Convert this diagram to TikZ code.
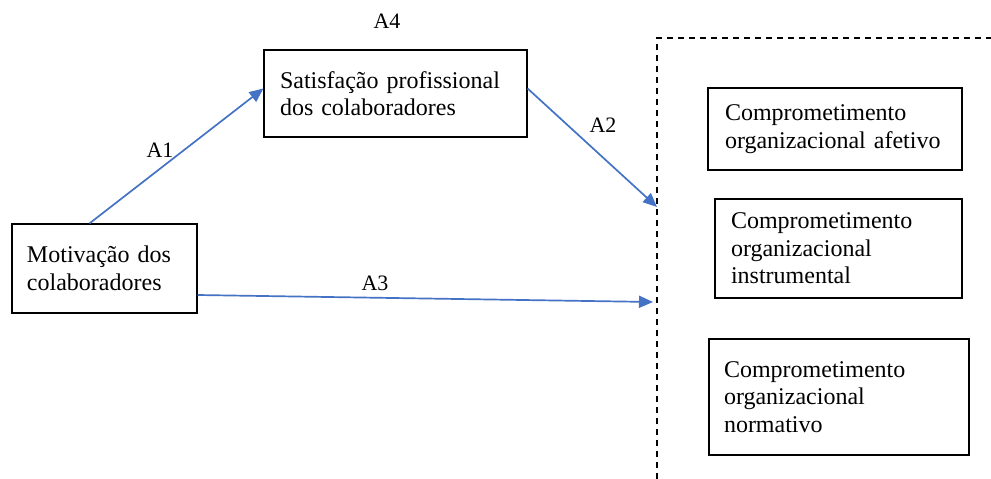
\documentclass[tikz,border=0pt]{standalone}
\usepackage{fontspec}
\setmainfont{Liberation Serif}
\usepackage{xcolor}
\usetikzlibrary{arrows.meta,positioning,calc}
\definecolor{arrowblue}{RGB}{68,114,196}

\begin{document}
\begin{tikzpicture}[
  x=1pt, y=-1pt,
  box/.style={draw, line width=1.2pt, align=left, inner sep=0pt,
              font=\fontsize{24}{27.5}\selectfont},
  lbl/.style={font=\fontsize{22}{26}\selectfont, inner sep=0pt},
  link/.style={-{Triangle[length=14pt, width=12pt]}, draw=arrowblue,
               fill=arrowblue, line width=1.7pt},
  border/.style={dash pattern=on 6pt off 5pt, line width=1.3pt}
]
\useasboundingbox (0,0) rectangle (991,479);

\node[box, minimum width=185pt, minimum height=89pt, text width=155pt]
  (motiv) at (104.5,268.5) {Motivação dos\\colaboradores};
\node[box, minimum width=263pt, minimum height=87pt, text width=231pt]
  (satisf) at (395.5,93.5) {Satisfação profissional\\dos colaboradores};

\node[box, minimum width=254pt, minimum height=82pt, text width=220pt]
  (afet) at (835,129) {Comprometimento\\organizacional afetivo};
\node[box, minimum width=247pt, minimum height=99pt, text width=215pt]
  (instr) at (838.5,248.5) {Comprometimento\\organizacional\\instrumental};
\node[box, minimum width=260pt, minimum height=116pt, text width=230pt]
  (norm) at (839,397) {Comprometimento\\organizacional\\normativo};

% dashed frame round the three outcomes
\coordinate (ftop) at (657,38);
\coordinate (fright) at (991,38);
\coordinate (fbot) at (657,479);
\draw[border] (fbot) -- (ftop) -- (fright);

\coordinate (a2end) at (657,207);
\coordinate (a3end) at (653,302);

\draw[link] ([xshift=-15pt]motiv.north) -- ([yshift=5pt]satisf.west);
\draw[link] ([yshift=5pt]satisf.east) -- (a2end);
\draw[link] ([yshift=-26.5pt]motiv.east) -- (a3end);

\node[lbl] (la4) at (387,21) {A4};
\node[lbl] (la1) at (160,150) {A1};
\node[lbl] (la2) at (603,125) {A2};
\node[lbl] (la3) at (375,283) {A3};
\end{tikzpicture}
\end{document}
